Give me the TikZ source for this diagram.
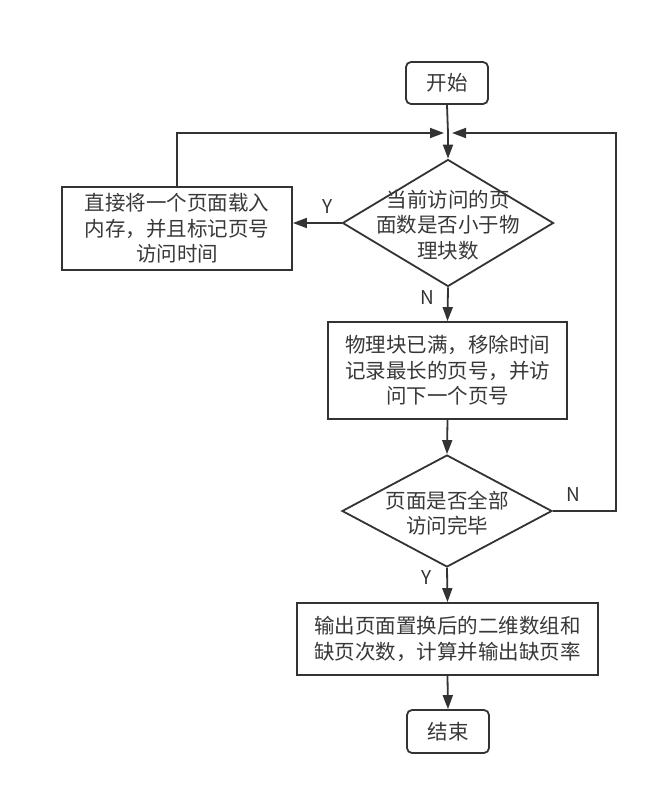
\documentclass[tikz,border=0pt]{standalone}
\usepackage{fontspec}
\setmainfont{Noto Sans CJK SC}
\usetikzlibrary{shapes.geometric,arrows.meta}
\definecolor{ln}{HTML}{333333}
\definecolor{tx}{HTML}{383838}
\newcommand\cjkfs{\fontsize{20.5}{25.5}\selectfont}
\newcommand\lblfs{\fontsize{19}{20}\selectfont}
\begin{document}
\begin{tikzpicture}[x=1pt,y=-1pt,line width=1.8pt,
  box/.style={draw=ln,rectangle,inner sep=0pt,text=tx,align=center,font=\cjkfs},
  rbox/.style={box,rounded corners=5pt},
  dia/.style={draw=ln,diamond,inner sep=0pt},
  dtext/.style={text=tx,align=center,font=\cjkfs,inner sep=0pt},
  lbl/.style={text=ln,font=\lblfs,inner sep=0pt},
  arr/.style={draw=ln,-{Triangle[length=14pt,width=10pt]}},
  con/.style={draw=ln}]
\useasboundingbox (0,0) rectangle (658,793);
\node[rbox,minimum width=82pt,minimum height=42pt] (start) at (447,83) {开始};
\node[dia,minimum width=211pt,minimum height=127pt] (d1) at (448,223) {};
\node[dtext] (d1t) at (448,225) {当前访问的页\\面数是否小于物\\理块数};
\node[box,minimum width=230pt,minimum height=83pt] (L) at (177,228.5) {直接将一个页面载入\\内存，并且标记页号\\访问时间};
\node[box,minimum width=239pt,minimum height=97pt] (B2) at (447.5,370.5) {物理块已满，移除时间\\记录最长的页号，并访\\问下一个页号};
\node[dia,minimum width=210pt,minimum height=112pt] (d2) at (447,511) {};
\node[dtext] (d2t) at (447,513) {页面是否全部\\访问完毕};
\node[box,minimum width=301pt,minimum height=72pt] (B3) at (447.5,639) {输出页面置换后的二维数组和\\缺页次数，计算并输出缺页率};
\node[rbox,minimum width=82pt,minimum height=43pt] (end) at (448,731.5) {结束};
\coordinate (M) at (448,133);
\coordinate (R) at (616,133);
\draw[con] (start.south) -- (M);
\draw[arr] (M) -- (d1.north);
\draw[arr,shorten >=4pt] (L.north) |- (M);
\draw[arr,shorten >=4pt] (d2.east) -| (R) -- (M);
\draw[arr] (d1.west) -- (d1.west -| L.east);
\draw[arr] (d1.south) -- (B2.north);
\draw[arr] (B2.south) -- (d2.north);
\draw[arr] (d2.south) -- (B3.north);
\draw[arr] (B3.south) -- (end.north);
\node[lbl] (y1) at (328,207) {Y};
\node[lbl] (n1) at (427,298) {N};
\node[lbl] (n2) at (573,495) {N};
\node[lbl] (y2) at (427,578) {Y};
\end{tikzpicture}
\end{document}
